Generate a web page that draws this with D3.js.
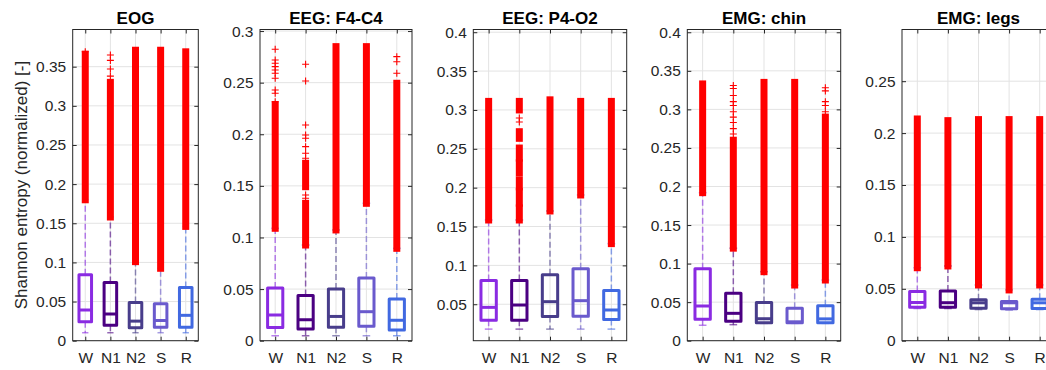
<!DOCTYPE html>
<html>
<head>
<meta charset="utf-8">
<script src="https://cdn.jsdelivr.net/npm/d3@7"></script>
<style>
  body { margin: 0; background: #fff; }
  svg { display: block; font-family: "Liberation Sans", Arial, Helvetica, sans-serif; }
</style>
</head>
<body>
<svg id="chart" width="1046" height="370"></svg>
<script>
// sleep stages on every x axis
const stages = ['W', 'N1', 'N2', 'S', 'R'];
const stageColors = ['#8A2BE2', '#4B0082', '#483D8B', '#6A5ACD', '#4169E1'];
const panelTitles = ['EOG', 'EEG: F4-C4', 'EEG: P4-O2', 'EMG: chin', 'EMG: legs'];

const yDomains = [[0, 0.3975], [0, 0.3015], [0.0031, 0.4035], [0, 0.4036], [0, 0.2998]];
const yTickValues = [
  [0, 0.05, 0.1, 0.15, 0.2, 0.25, 0.3, 0.35],
  [0, 0.05, 0.1, 0.15, 0.2, 0.25, 0.3],
  [0.05, 0.1, 0.15, 0.2, 0.25, 0.3, 0.35, 0.4],
  [0, 0.05, 0.1, 0.15, 0.2, 0.25, 0.3, 0.35, 0.4],
  [0, 0.05, 0.1, 0.15, 0.2, 0.25]
];

// box statistics, one row per panel, one value per stage
const q3 = [
  [0.0842, 0.0743, 0.0488, 0.0471, 0.068],
  [0.051, 0.0438, 0.050, 0.0607, 0.0404],
  [0.0805, 0.0805, 0.0879, 0.0956, 0.0677],
  [0.0933, 0.0616, 0.0495, 0.0422, 0.0453],
  [0.0474, 0.0478, 0.0394, 0.0378, 0.0399]
];
const medians = [
  [0.0392, 0.0341, 0.025, 0.0258, 0.0324],
  [0.0249, 0.0203, 0.0235, 0.0281, 0.0198],
  [0.046, 0.049, 0.0533, 0.0546, 0.0426],
  [0.045, 0.0355, 0.0285, 0.0245, 0.0283],
  [0.0368, 0.0366, 0.0365, 0.0365, 0.0365]
];
const q1 = [
  [0.0241, 0.0198, 0.0165, 0.0172, 0.0172],
  [0.0128, 0.0113, 0.013, 0.014, 0.0104],
  [0.0295, 0.0295, 0.0342, 0.0346, 0.0304],
  [0.0279, 0.0253, 0.0233, 0.0232, 0.0233],
  [0.0322, 0.0322, 0.0313, 0.0307, 0.031]
];
const whiskerLow = [
  [0.0102, 0.0102, 0.0102, 0.0102, 0.0102],
  [0.0048, 0.0048, 0.0048, 0.0048, 0.0048],
  [0.018, 0.018, 0.018, 0.018, 0.018],
  [0.02, 0.0208, 0.0225, 0.0225, 0.0225],
  [0.031, 0.031, 0.030, 0.0295, 0.030]
];
const whiskerHigh = [
  [0.18, 0.158, 0.101, 0.0925, 0.146],
  [0.1089, 0.0927, 0.1073, 0.1331, 0.0895],
  [0.1584, 0.1584, 0.170, 0.1906, 0.128],
  [0.192, 0.12, 0.0895, 0.0722, 0.0787],
  [0.0703, 0.072, 0.0537, 0.0489, 0.0537]
];

// outliers: packed runs [lo, hi] where markers overlap, and single markers
const outlierRuns = [
  [[[0.18, 0.366]], [[0.158, 0.33]], [[0.101, 0.371]], [[0.0925, 0.371]], [[0.146, 0.369]]],
  [[[0.1089, 0.2284]], [[0.0927, 0.1331], [0.1492, 0.1719]], [[0.1073, 0.2849]], [[0.1331, 0.2849]], [[0.0895, 0.2494]]],
  [[[0.1584, 0.311]],
   [[0.1584, 0.174], [0.18, 0.195], [0.201, 0.21], [0.219, 0.232], [0.238, 0.251], [0.2635, 0.272], [0.30, 0.311]],
   [[0.170, 0.313]], [[0.1906, 0.311]], [[0.128, 0.311]]],
  [[[0.192, 0.333]], [[0.12, 0.26]], [[0.0895, 0.335]], [[0.0722, 0.335]], [[0.0787, 0.29]]],
  [[[0.0703, 0.2136]], [[0.072, 0.212]], [[0.0537, 0.213]], [[0.0489, 0.213]], [[0.0537, 0.213]]]
];
const outlierPoints = [
  [[0.369], [0.365, 0.358, 0.347, 0.338], [], [], []],
  [[0.2824, 0.272, 0.2688, 0.2655, 0.2623, 0.2591, 0.2543, 0.2429, 0.2397, 0.2316],
   [0.2678, 0.2516, 0.209, 0.1993, 0.1961, 0.188, 0.1816, 0.1767, 0.1412, 0.138],
   [], [], [0.2752, 0.2703, 0.2591]],
  [[], [0.2896, 0.2844], [], [], []],
  [[], [0.331, 0.327, 0.318, 0.31, 0.305, 0.297, 0.29, 0.283, 0.275, 0.268], [], [], [0.328, 0.324, 0.31, 0.305, 0.297]],
  [[], [], [], [], []]
];

const panelLeft = [72.7, 260, 473.3, 687.3, 902];
const panelWidth = [125.6, 152, 153.4, 153.4, 153];
const plotTop = 29.5, plotBottom = 340.7;
const axisColor = '#262626';
const gridColor = '#e3e3e3';

const svg = d3.select('#chart');

panelTitles.forEach((title, p) => {
  const left = panelLeft[p];
  const right = left + panelWidth[p];

  const x = d3.scalePoint().domain(stages).range([left, right]).padding(0.5);
  const y = d3.scaleLinear().domain(yDomains[p]).range([plotBottom, plotTop]);
  const step = x.step();
  const boxW = step * 0.5;
  const capW = step * 0.25;

  const g = svg.append('g');

  // grid
  g.append('g').selectAll('line')
    .data(yTickValues[p])
    .join('line')
    .attr('x1', left).attr('x2', right)
    .attr('y1', (d) => y(d)).attr('y2', (d) => y(d))
    .attr('stroke', gridColor).attr('stroke-width', 1);
  g.append('g').selectAll('line')
    .data(stages)
    .join('line')
    .attr('x1', (d) => x(d)).attr('x2', (d) => x(d))
    .attr('y1', plotTop).attr('y2', plotBottom)
    .attr('stroke', gridColor).attr('stroke-width', 1);

  // whiskers and caps
  stages.forEach((s, i) => {
    const cx = x(s);
    const col = stageColors[i];
    const wg = g.append('g')
      .attr('stroke', col)
      .attr('stroke-opacity', 0.6)
      .attr('stroke-width', 1.5);
    wg.append('line')
      .attr('x1', cx).attr('x2', cx)
      .attr('y1', y(q3[p][i])).attr('y2', y(whiskerHigh[p][i]))
      .attr('stroke-dasharray', '6,3');
    wg.append('line')
      .attr('x1', cx).attr('x2', cx)
      .attr('y1', y(q1[p][i])).attr('y2', y(whiskerLow[p][i]))
      .attr('stroke-dasharray', '6,3');
    [whiskerLow[p][i], whiskerHigh[p][i]].forEach((v) => {
      wg.append('line')
        .attr('x1', cx - capW / 2).attr('x2', cx + capW / 2)
        .attr('y1', y(v)).attr('y2', y(v));
    });
  });

  // boxes and medians
  stages.forEach((s, i) => {
    const cx = x(s);
    const col = stageColors[i];
    g.append('rect')
      .attr('x', cx - boxW / 2)
      .attr('y', y(q3[p][i]))
      .attr('width', boxW)
      .attr('height', y(q1[p][i]) - y(q3[p][i]))
      .attr('fill', 'none')
      .attr('stroke', col)
      .attr('stroke-width', 3)
      .attr('stroke-linejoin', 'round');
    g.append('line')
      .attr('x1', cx - boxW / 2).attr('x2', cx + boxW / 2)
      .attr('y1', y(medians[p][i])).attr('y2', y(medians[p][i]))
      .attr('stroke', col)
      .attr('stroke-width', 3);
  });

  // outliers
  const og = g.append('g');
  stages.forEach((s, i) => {
    const cx = x(s);
    outlierRuns[p][i].forEach(([lo, hi]) => {
      og.append('rect')
        .attr('x', cx - 3.5)
        .attr('y', y(hi) - 3.5)
        .attr('width', 7)
        .attr('height', y(lo) - y(hi) + 7)
        .attr('fill', '#ff0000');
    });
    og.append('g').selectAll('path')
      .data(outlierPoints[p][i])
      .join('path')
      .attr('d', (d) => `M${cx - 3.5},${y(d)}H${cx + 3.5}M${cx},${y(d) - 3.5}V${y(d) + 3.5}`)
      .attr('stroke', '#ff0000')
      .attr('stroke-width', 1.1)
      .attr('fill', 'none');
  });

  // axes: labelled left and bottom, inward ticks on all four sides
  const styleAxis = (sel) => {
    sel.select('.domain').remove();
    sel.selectAll('line').attr('stroke', axisColor);
    sel.selectAll('text').attr('fill', axisColor).style('font-size', '15.5px');
  };
  const fmt = (d) => String(+d.toFixed(2));

  g.append('g')
    .attr('transform', `translate(${left},0)`)
    .call(d3.axisLeft(y).tickValues(yTickValues[p]).tickFormat(fmt).tickSize(-4).tickPadding(6.5))
    .call(styleAxis);
  g.append('g')
    .attr('transform', `translate(${right},0)`)
    .call(d3.axisRight(y).tickValues(yTickValues[p]).tickFormat('').tickSize(-4))
    .call(styleAxis);
  g.append('g')
    .attr('transform', `translate(0,${plotBottom})`)
    .call(d3.axisBottom(x).tickSize(-4).tickPadding(11))
    .call(styleAxis);
  g.append('g')
    .attr('transform', `translate(0,${plotTop})`)
    .call(d3.axisTop(x).tickFormat('').tickSize(-4))
    .call(styleAxis);

  g.append('rect')
    .attr('x', left).attr('y', plotTop)
    .attr('width', right - left).attr('height', plotBottom - plotTop)
    .attr('fill', 'none')
    .attr('stroke', axisColor)
    .attr('stroke-width', 1);

  // title
  g.append('text')
    .attr('x', (left + right) / 2)
    .attr('y', 23.5)
    .attr('text-anchor', 'middle')
    .attr('fill', '#000')
    .style('font-size', '17px')
    .style('font-weight', 'bold')
    .text(title);
});

// y axis label on the first panel
svg.append('text')
  .attr('transform', `translate(27,${(plotTop + plotBottom) / 2}) rotate(-90)`)
  .attr('text-anchor', 'middle')
  .attr('fill', axisColor)
  .style('font-size', '17px')
  .text('Shannon entropy (normalized) [-]');
</script>
</body>
</html>
